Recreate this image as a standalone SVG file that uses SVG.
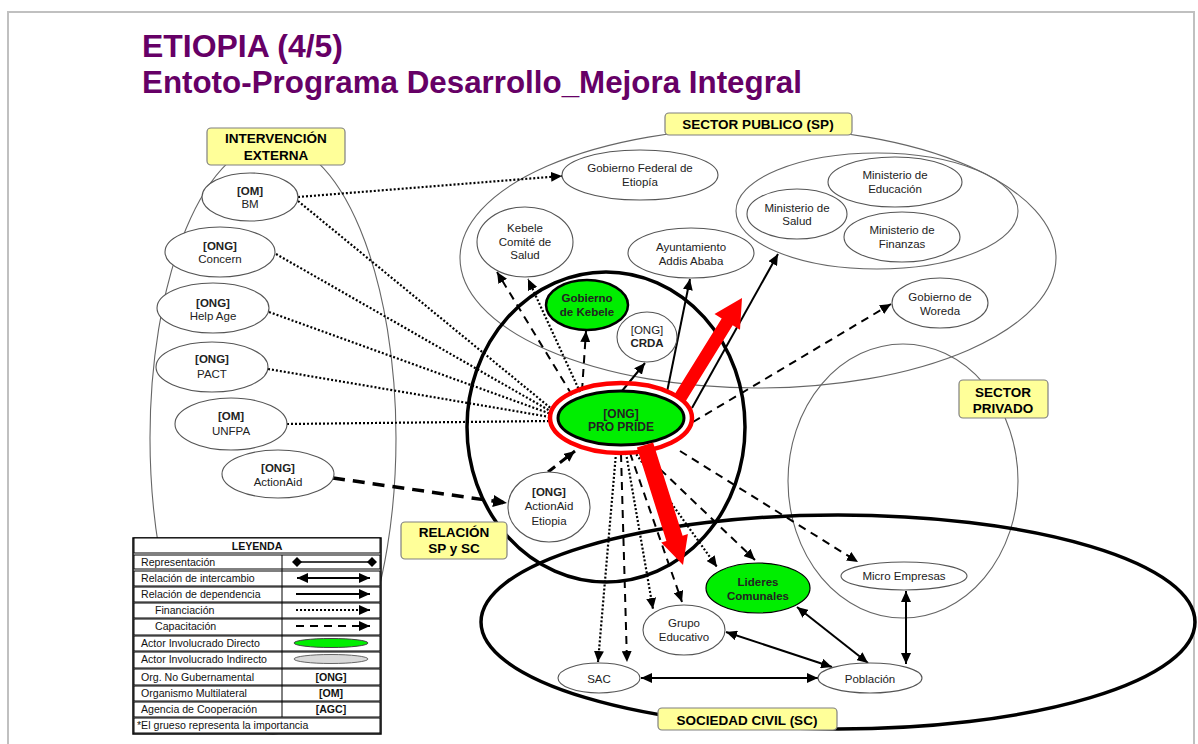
<svg xmlns="http://www.w3.org/2000/svg" width="1198" height="744" viewBox="0 0 1198 744">
<style>
text{font-family:"Liberation Sans",Arial,sans-serif;fill:#222}
.t{font-size:11.5px;text-anchor:middle}
.b{font-weight:bold}
.title{font-size:30.5px;font-weight:bold;fill:#660066}
.lab{font-size:13.5px;font-weight:bold;text-anchor:middle;fill:#000}
.labbox{fill:#ffff99;stroke:#808080;stroke-width:1.2}
.node{fill:#fff;stroke:#555;stroke-width:1.1}
.green{fill:#00ee00;stroke:#000;stroke-width:1.2}
.grp{fill:none;stroke:#666;stroke-width:1.1}
.thick{fill:none;stroke:#000;stroke-width:3.5}
.fin{fill:none;stroke:#000;stroke-width:2.2;stroke-dasharray:2 2}
.cap{fill:none;stroke:#000;stroke-width:2;stroke-dasharray:8 6}
.dep{fill:none;stroke:#000;stroke-width:2}
.leg{font-size:10.6px;fill:#111}
.lrow{fill:#fff;stroke:#000;stroke-width:1}
</style>
<defs>
<marker id="ah" markerUnits="userSpaceOnUse" markerWidth="11" markerHeight="10" viewBox="0 0 11 10" refX="11" refY="5" orient="auto-start-reverse"><path d="M0,0 L11,5 L0,10 z" fill="#000"/></marker>
<marker id="ahb" markerUnits="userSpaceOnUse" markerWidth="14" markerHeight="12" viewBox="0 0 14 12" refX="14" refY="6" orient="auto"><path d="M0,0 L14,6 L0,12 z" fill="#000"/></marker>
<marker id="dm" markerUnits="userSpaceOnUse" markerWidth="10" markerHeight="10" viewBox="0 0 10 10" refX="5" refY="5" orient="auto"><path d="M0,5 L5,0 L10,5 L5,10 z" fill="#000"/></marker>
</defs>
<rect x="0" y="0" width="1198" height="744" fill="#fff"/>
<rect x="8" y="12" width="1186" height="780" fill="none" stroke="#c0c0c0" stroke-width="2"/>
<text class="title" x="142" y="57" textLength="201" lengthAdjust="spacingAndGlyphs">ETIOPIA (4/5)</text>
<text class="title" x="142" y="93" textLength="660" lengthAdjust="spacingAndGlyphs">Entoto-Programa Desarrollo_Mejora Integral</text>

<g id="groups">
<ellipse class="grp" cx="273" cy="438" rx="123" ry="296"/>
<ellipse class="grp" cx="758" cy="258" rx="298" ry="130"/>
<ellipse class="grp" cx="877" cy="211" rx="141" ry="58"/>
<ellipse class="grp" cx="903" cy="481" rx="115" ry="137"/>
<ellipse class="thick" cx="606" cy="427" rx="139" ry="155"/>
<ellipse class="thick" cx="838" cy="622" rx="357" ry="107"/>
</g>

<g id="connectors">
<path class="fin" d="M298,197 L562,176" marker-end="url(#ah)"/>
<path class="fin" d="M298,201 L553,410"/>
<path class="fin" d="M276,254 L552,412"/>
<path class="fin" d="M269,312 L551,414"/>
<path class="fin" d="M268,369 L550,417"/>
<path class="fin" d="M287,424 L550,421"/>
<path class="fin" d="M580,392 L528,279" marker-end="url(#ah)"/>
<path class="fin" d="M616,453 L598,662" marker-end="url(#ah)"/>
<path class="fin" d="M626,453 L653,609" marker-end="url(#ah)"/>
<path class="fin" d="M634,451 L717,567" marker-end="url(#ah)"/>
<path class="cap" d="M572,395 L497,272" marker-end="url(#ah)"/>
<path class="cap" d="M582,391 L586,331" marker-end="url(#ah)"/>
<path class="cap" d="M693,422 L891,304" marker-end="url(#ah)"/>
<path class="cap" d="M680,451 L858,562" marker-end="url(#ah)"/>
<path class="cap" d="M640,450 L755,560" marker-end="url(#ah)"/>
<path class="cap" d="M630,453 L682,602" marker-end="url(#ah)"/>
<path class="cap" d="M621,454 L627,662" marker-end="url(#ah)"/>
<path fill="none" stroke="#000" stroke-width="3.5" stroke-dasharray="12 8" d="M333,478 L507,503" marker-end="url(#ahb)"/>
<path fill="none" stroke="#000" stroke-width="3" stroke-dasharray="9 6" d="M548,472 L575,451" marker-end="url(#ah)"/>
<path class="dep" d="M622,391 L645,363" marker-end="url(#ah)"/>
<path class="dep" d="M667,392 L690,279" marker-end="url(#ah)"/>
<path class="dep" d="M692,408 L778,254" marker-end="url(#ah)"/>
<path class="dep" d="M641,678 L818,678" marker-start="url(#ah)" marker-end="url(#ah)"/>
<path class="dep" d="M726,632 L832,667" marker-start="url(#ah)" marker-end="url(#ah)"/>
<path class="dep" d="M797,607 L868,663" marker-start="url(#ah)" marker-end="url(#ah)"/>
<path class="dep" d="M906,591 L906,664" marker-start="url(#ah)" marker-end="url(#ah)"/>
</g>

<g id="n-bm"><ellipse class="node" cx="250" cy="197" rx="48" ry="24"/><text class="t b" x="250" y="195">[OM]</text><text class="t" x="250" y="208">BM</text></g>
<g id="n-concern"><ellipse class="node" cx="220" cy="252" rx="55" ry="25"/><text class="t b" x="220" y="250">[ONG]</text><text class="t" x="220" y="263">Concern</text></g>
<g id="n-helpage"><ellipse class="node" cx="213" cy="308" rx="56" ry="25"/><text class="t b" x="213" y="307">[ONG]</text><text class="t" x="213" y="320">Help Age</text></g>
<g id="n-pact"><ellipse class="node" cx="212" cy="367" rx="56" ry="25"/><text class="t b" x="212" y="363">[ONG]</text><text class="t" x="212" y="378">PACT</text></g>
<g id="n-unfpa"><ellipse class="node" cx="231" cy="424" rx="56" ry="26"/><text class="t b" x="231" y="420">[OM]</text><text class="t" x="231" y="435">UNFPA</text></g>
<g id="n-actionaid"><ellipse class="node" cx="278" cy="474" rx="56" ry="24"/><text class="t b" x="278" y="472">[ONG]</text><text class="t" x="278" y="486">ActionAid</text></g>

<g id="n-gobfed"><ellipse class="node" cx="640" cy="175" rx="78" ry="25"/><text class="t" x="640" y="172">Gobierno Federal de</text><text class="t" x="640" y="186">Etiopía</text></g>
<g id="n-kebelecs"><ellipse class="node" cx="525" cy="242" rx="48" ry="35"/><text class="t" x="525" y="232">Kebele</text><text class="t" x="525" y="246">Comité de</text><text class="t" x="525" y="259">Salud</text></g>
<g id="n-ayunt"><ellipse class="node" cx="691" cy="253" rx="63" ry="25"/><text class="t" x="691" y="251">Ayuntamiento</text><text class="t" x="691" y="265">Addis Ababa</text></g>
<g id="n-minsalud"><ellipse class="node" cx="797" cy="214" rx="50" ry="25"/><text class="t" x="797" y="212">Ministerio de</text><text class="t" x="797" y="225">Salud</text></g>
<g id="n-minedu"><ellipse class="node" cx="895" cy="182" rx="67" ry="25"/><text class="t" x="895" y="179">Ministerio de</text><text class="t" x="895" y="193">Educación</text></g>
<g id="n-minfin"><ellipse class="node" cx="902" cy="237" rx="58" ry="25"/><text class="t" x="902" y="234">Ministerio de</text><text class="t" x="902" y="248">Finanzas</text></g>
<g id="n-woreda"><ellipse class="node" cx="940" cy="303" rx="48" ry="25"/><text class="t" x="940" y="301">Gobierno de</text><text class="t" x="940" y="315">Woreda</text></g>

<g id="n-gobkebele"><ellipse cx="587" cy="305" rx="41" ry="25" fill="#00ee00" stroke="#000" stroke-width="2.5"/><text class="t b" x="587" y="302" fill="#000">Gobierno</text><text class="t b" x="587" y="316">de Kebele</text></g>
<g id="n-crda"><ellipse class="node" cx="647" cy="337" rx="30" ry="25"/><text class="t" x="647" y="334">[ONG]</text><text class="t b" x="647" y="347">CRDA</text></g>
<g id="n-aaetiopia"><ellipse class="node" cx="549" cy="507" rx="41" ry="35"/><text class="t b" x="549" y="496">[ONG]</text><text class="t" x="549" y="510">ActionAid</text><text class="t" x="549" y="525">Etiopia</text></g>

<g id="n-lideres"><ellipse class="green" cx="758" cy="588" rx="52" ry="25"/><text class="t b" x="758" y="586">Lideres</text><text class="t b" x="758" y="600">Comunales</text></g>
<g id="n-micro"><ellipse class="node" cx="904" cy="576" rx="63" ry="14"/><text class="t" x="904" y="580">Micro Empresas</text></g>
<g id="n-grupo"><ellipse class="node" cx="684" cy="630" rx="41" ry="25"/><text class="t" x="684" y="627">Grupo</text><text class="t" x="684" y="641">Educativo</text></g>
<g id="n-sac"><ellipse class="node" cx="599" cy="678" rx="41" ry="15"/><text class="t" x="599" y="683">SAC</text></g>
<g id="n-poblacion"><ellipse class="node" cx="870" cy="678" rx="52" ry="15"/><text class="t" x="870" y="683">Población</text></g>

<g id="n-propride">
<ellipse cx="621" cy="418" rx="63" ry="27" fill="#00ee00" stroke="#000" stroke-width="3"/>
<ellipse cx="621" cy="418" rx="71" ry="35" fill="none" stroke="#ff0000" stroke-width="4.5"/>
<text class="b" x="621" y="418" style="font-size:12px;text-anchor:middle">[ONG]</text>
<text class="b" x="621" y="431" style="font-size:12px;text-anchor:middle">PRO PRIDE</text>
</g>

<g id="red-arrows">
<polygon fill="#ff0000" points="674.5,394.6 721.7,318.4 714.5,313.9 742,298 740,329.7 732.7,325.2 685.5,401.4"/>
<polygon fill="#ff0000" points="636.9,447.6 666.4,540.9 661.2,542.5 683,565 687.9,534.1 682.6,535.7 653.1,442.4"/>
</g>

<g id="labels">
<rect class="labbox" x="207" y="128" width="138" height="37" rx="4"/>
<text class="lab" x="276" y="143">INTERVENCIÓN</text><text class="lab" x="276" y="160">EXTERNA</text>
<rect class="labbox" x="665" y="113" width="187" height="22" rx="4"/>
<text class="lab" x="758" y="129">SECTOR PUBLICO (SP)</text>
<rect class="labbox" x="959" y="380" width="89" height="38" rx="4"/>
<text class="lab" x="1003" y="397">SECTOR</text><text class="lab" x="1003" y="413">PRIVADO</text>
<rect class="labbox" x="401" y="522" width="106" height="37" rx="4"/>
<text class="lab" x="454" y="537">RELACIÓN</text><text class="lab" x="454" y="553">SP y SC</text>
<rect class="labbox" x="658" y="708" width="179" height="22" rx="4"/>
<text class="lab" x="747" y="725">SOCIEDAD CIVIL (SC)</text>
</g>

<g id="legend">
<rect x="133" y="538" width="248" height="196" fill="#fff" stroke="#000" stroke-width="1.5"/>
<rect class="lrow" x="134" y="538" width="246" height="15"/>
<text class="leg b" x="257" y="550" text-anchor="middle">LEYENDA</text>
<rect class="lrow" x="134" y="555" width="246" height="14"/>
<rect class="lrow" x="134" y="571" width="246" height="15"/>
<rect class="lrow" x="134" y="587" width="246" height="15"/>
<rect class="lrow" x="134" y="603" width="246" height="15"/>
<rect class="lrow" x="134" y="619" width="246" height="16"/>
<rect class="lrow" x="134" y="636" width="246" height="15"/>
<rect class="lrow" x="134" y="652" width="246" height="16"/>
<rect class="lrow" x="134" y="669" width="246" height="16"/>
<rect class="lrow" x="134" y="686" width="246" height="15"/>
<rect class="lrow" x="134" y="702" width="246" height="15"/>
<rect class="lrow" x="134" y="718" width="246" height="15"/>
<path d="M282,555 V717" stroke="#000" stroke-width="1"/>
<text class="leg" x="141" y="566">Representación</text>
<text class="leg" x="141" y="582">Relación de intercambio</text>
<text class="leg" x="141" y="598">Relación de dependencia</text>
<text class="leg" x="155" y="614">Financiación</text>
<text class="leg" x="155" y="630">Capacitación</text>
<text class="leg" x="141" y="647">Actor Involucrado Directo</text>
<text class="leg" x="141" y="663">Actor Involucrado Indirecto</text>
<text class="leg" x="141" y="681">Org. No Gubernamental</text>
<text class="leg" x="141" y="697">Organismo Multilateral</text>
<text class="leg" x="141" y="713">Agencia de Cooperación</text>
<text class="leg" x="137" y="729">*El grueso representa la importancia</text>
<path d="M297,562 L372,562" stroke="#000" stroke-width="1.5" marker-start="url(#dm)" marker-end="url(#dm)"/>
<path d="M297,578 L370,578" class="dep" marker-start="url(#ah)" marker-end="url(#ah)"/>
<path d="M296,594 L370,594" class="dep" marker-end="url(#ah)"/>
<path d="M296,610 L370,610" class="fin" marker-end="url(#ah)"/>
<path d="M296,626 L370,626" class="cap" marker-end="url(#ah)"/>
<ellipse cx="331" cy="643" rx="37" ry="4.5" fill="#00ee00" stroke="#444" stroke-width="1"/>
<ellipse cx="331" cy="659" rx="37" ry="4.5" fill="#d9d9d9" stroke="#666" stroke-width="1"/>
<text class="leg b" x="331" y="681" text-anchor="middle">[ONG]</text>
<text class="leg b" x="331" y="697" text-anchor="middle">[OM]</text>
<text class="leg b" x="331" y="713" text-anchor="middle">[AGC]</text>
</g>
</svg>
